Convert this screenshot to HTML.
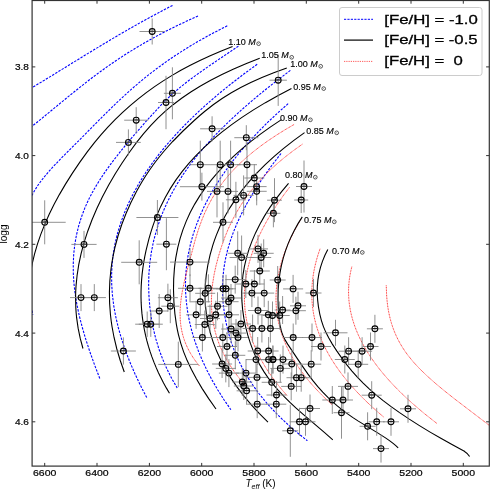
<!DOCTYPE html><html><head><meta charset="utf-8"><style>html,body{margin:0;padding:0;background:#fff;width:490px;height:489px;overflow:hidden}svg{display:block;will-change:transform}text{font-family:"Liberation Sans",sans-serif}</style></head><body>
<svg width="490" height="489" viewBox="0 0 490 489">
<defs><clipPath id="c"><rect x="32.1" y="0.5" width="457.2" height="465.6"/></clipPath></defs>
<g clip-path="url(#c)" fill="none">
<path d="M172.51,5.40 158.62,12.65 144.79,20.15 130.97,27.90 116.28,36.40 92.88,50.40 42.83,81.15 19.85,95.00" stroke="#0000ff" stroke-width="1.1" stroke-dasharray="2.4,1.3"/>
<path d="M197.99,16.00 186.91,21.00 175.86,26.25 165.39,31.50 154.99,37.00 145.15,42.50 135.39,48.25 125.74,54.25 116.21,60.50 108.57,65.75 100.87,71.25 93.13,77.00 85.00,83.25 70.61,94.75 37.12,122.25 28.00,129.50 19.57,136.00" stroke="#0000ff" stroke-width="1.1" stroke-dasharray="2.4,1.3"/>
<path d="M227.26,25.80 211.26,34.05 196.53,42.30 189.39,46.55 182.16,51.05 175.23,55.55 168.59,60.05 155.78,69.30 149.29,74.30 143.05,79.30 130.73,89.80 117.92,101.55 103.83,115.30 80.63,138.80 60.66,158.80 51.44,168.55 44.33,176.80 41.00,181.05 37.95,185.30 35.35,189.30 33.06,193.30 31.55,196.30 30.13,199.55 26.16,210.30 24.51,214.30 22.52,218.30 20.23,222.00" stroke="#0000ff" stroke-width="1.1" stroke-dasharray="2.4,1.3"/>
<path d="M238.44,46.10 205.99,68.10 196.12,75.10 187.39,81.60 179.50,87.85 172.79,93.60 166.38,99.60 159.76,106.35 145.21,122.35 131.05,138.60 119.93,152.10 110.53,164.35 106.22,170.35 102.29,176.10 98.57,181.85 95.24,187.35 92.27,192.60 89.51,197.85 86.99,203.10 84.70,208.35 81.39,217.10 78.61,226.10 76.39,235.35 74.78,244.60 73.73,254.10 73.25,263.85 73.34,273.85 73.99,283.85 75.18,294.10 76.92,304.60 79.25,315.60 82.11,326.85 85.62,338.85 89.72,351.35 94.55,364.85 100.28,379.80" stroke="#0000ff" stroke-width="1.1" stroke-dasharray="2.4,1.3"/>
<path d="M257.18,64.30 243.81,74.05 231.11,83.80 219.08,93.55 207.44,103.55 196.76,113.30 186.48,123.30 176.89,133.30 167.97,143.30 159.74,153.30 152.17,163.30 145.26,173.30 139.02,183.30 133.43,193.30 128.37,203.55 124.09,213.55 120.37,223.80 117.37,233.80 115.01,243.80 113.26,253.80 112.14,263.80 111.61,274.05 111.70,284.30 112.40,294.80 113.73,305.55 115.66,316.30 118.22,327.30 121.42,338.55 125.18,349.80 129.58,361.30 134.72,373.30 140.39,385.30 146.82,397.80" stroke="#0000ff" stroke-width="1.1" stroke-dasharray="2.4,1.3"/>
<path d="M290.36,70.40 276.85,80.65 264.22,90.65 252.44,100.40 241.23,110.15 230.86,119.65 221.08,129.15 212.13,138.40 203.79,147.65 196.26,156.65 189.35,165.65 183.03,174.65 177.31,183.65 172.03,192.90 167.33,202.15 163.20,211.40 159.54,220.90 156.22,231.15 153.52,241.40 151.39,251.90 149.85,262.65 148.93,273.40 148.61,284.15 148.89,295.15 149.78,306.40 151.26,317.65 153.27,328.40 155.82,338.90 158.95,349.15 162.64,359.15 166.88,368.90 171.68,378.40 177.16,387.90" stroke="#0000ff" stroke-width="1.1" stroke-dasharray="2.4,1.3"/>
<path d="M288.12,103.70 277.71,112.95 267.87,122.20 258.61,131.45 249.91,140.70 241.78,149.95 234.02,159.45 227.03,168.70 220.43,178.20 214.56,187.45 209.11,196.95 204.23,206.45 199.92,215.95 196.19,225.45 193.01,234.95 190.40,244.45 188.34,253.95 186.84,263.45 185.87,273.20 185.48,282.70 185.64,292.45 186.34,301.95 187.62,311.70 189.46,321.45 191.85,331.20 194.80,340.95 198.29,350.70 202.33,360.45 206.90,370.20 212.01,379.95 217.81,389.95 223.99,399.70 230.88,409.70" stroke="#0000ff" stroke-width="1.1" stroke-dasharray="2.4,1.3"/>
<path d="M281.00,153.50 272.88,164.00 265.42,174.25 258.61,184.25 252.30,194.25 246.65,204.00 241.65,213.50 237.29,222.75 233.46,232.00 230.25,241.00 227.64,249.75 225.57,258.50 224.04,267.25 223.02,276.25 222.54,285.25 222.59,294.25 223.17,303.50 224.36,313.25 226.11,323.00 228.43,332.75 231.20,342.00 234.48,351.00 238.26,359.75 242.65,368.50 247.54,377.00 253.08,385.50 259.12,393.75 265.62,401.75 272.80,409.75 280.67,417.75 288.98,425.50 298.01,433.25 307.37,440.70" stroke="#0000ff" stroke-width="1.1" stroke-dasharray="2.4,1.3"/>
<path d="M32.2,310.5 C32.3,311.2 32.7,314.2 32.8,315.0" stroke="#0000ff" stroke-width="1.1" stroke-dasharray="2.4,1.3"/>
<path d="M294.05,124.50 285.06,129.75 276.64,135.00 268.39,140.50 260.72,146.00 253.60,151.50 247.00,157.00 240.65,162.75 234.82,168.50 229.51,174.25 224.47,180.25 219.93,186.25 215.69,192.50 211.76,199.00 208.27,205.50 204.96,212.50 201.95,219.75 198.44,229.50 194.98,240.75 188.03,266.75 184.75,279.75 182.74,289.00 181.32,297.25 180.42,305.00 180.06,312.25 180.24,319.75 180.58,323.50 181.05,327.00 181.69,330.50 182.50,334.00 183.49,337.50 184.58,340.75 185.84,344.00 187.28,347.25 188.91,350.50 190.73,353.75 192.75,357.00 194.79,360.00 197.22,363.25 199.70,366.30" stroke="#ff0000" stroke-width="0.85" stroke-dasharray="0.9,0.7"/>
<path d="M302.38,144.20 293.61,150.45 285.17,156.95 277.38,163.45 270.22,169.95 263.40,176.70 256.98,183.70 251.15,190.70 245.71,197.95 240.84,205.20 236.34,212.70 232.21,220.45 228.34,228.70 224.86,237.20 221.55,246.45 218.45,256.45 215.95,265.95 214.08,274.70 212.69,283.20 211.81,291.45 211.41,299.45 211.50,307.20 212.07,314.95 213.13,322.45 214.65,329.70 216.67,336.95 219.24,344.20 222.25,351.20 225.81,358.20 229.78,364.95 234.30,371.70 239.40,378.45 244.91,385.00" stroke="#ff0000" stroke-width="0.85" stroke-dasharray="0.9,0.7"/>
<path d="M289.38,187.50 283.91,194.75 278.93,201.75 274.26,208.75 269.89,215.75 265.85,222.75 262.26,229.50 258.86,236.50 255.91,243.25 253.27,250.00 250.97,256.75 249.00,263.50 247.43,270.00 246.14,276.75 245.23,283.25 244.65,289.75 244.41,296.25 244.52,302.75 244.98,309.25 245.79,315.75 246.92,322.00 248.38,328.25 250.19,334.50 252.34,340.75 254.86,347.00 257.73,353.25 260.96,359.50 264.57,365.75 268.38,371.75 272.73,378.00 277.26,384.00 282.15,390.00 287.32,395.90" stroke="#ff0000" stroke-width="0.85" stroke-dasharray="0.9,0.7"/>
<path d="M300.77,219.40 297.04,225.90 293.59,232.40 290.42,238.90 287.65,245.15 285.15,251.40 282.93,257.65 281.00,263.90 279.43,269.90 278.15,275.90 277.15,281.90 276.45,287.90 276.06,293.90 275.97,299.90 276.19,305.65 276.71,311.40 277.53,317.15 278.66,322.90 280.11,328.65 281.88,334.40 283.88,339.90 286.30,345.65 288.94,351.15 291.89,356.65 295.17,362.15 298.78,367.65 302.72,373.15 307.00,378.65 311.40,383.90 316.13,389.15 321.18,394.40 326.56,399.65 332.38,405.00" stroke="#ff0000" stroke-width="0.85" stroke-dasharray="0.9,0.7"/>
<path d="M320.04,248.80 318.10,254.55 316.48,260.05 315.09,265.55 313.94,271.05 313.03,276.55 312.37,282.05 311.96,287.55 311.80,292.80 311.89,298.30 312.23,303.55 312.80,308.80 313.63,314.05 314.71,319.30 316.05,324.55 317.64,329.80 319.51,335.05 321.63,340.30 324.03,345.55 326.69,350.80 329.48,355.80 332.66,361.05 335.95,366.05 339.67,371.30 343.46,376.30 347.72,381.55 352.02,386.55 356.81,391.80 361.63,396.80 366.95,402.05 372.29,407.05 378.16,412.30 384.02,417.30" stroke="#ff0000" stroke-width="0.85" stroke-dasharray="0.9,0.7"/>
<path d="M351.84,266.70 350.70,271.45 349.81,276.20 349.15,280.95 348.71,285.95 348.55,290.70 348.62,295.45 348.92,300.20 349.50,305.20 350.30,309.95 351.38,314.95 352.65,319.70 354.24,324.70 355.99,329.45 358.08,334.45 360.30,339.20 362.88,344.20 365.57,348.95 368.65,353.95 371.97,358.95 375.55,363.95 379.17,368.70 383.23,373.70 387.54,378.70 392.09,383.70 396.64,388.45 401.67,393.45 406.94,398.45 412.45,403.45 424.19,413.45 436.95,423.50" stroke="#ff0000" stroke-width="0.85" stroke-dasharray="0.9,0.7"/>
<path d="M386.23,285.40 386.67,296.15 387.11,301.15 387.68,305.90 388.43,310.65 389.33,315.15 390.35,319.40 391.57,323.65 392.98,327.90 394.51,331.90 396.24,335.90 398.19,339.90 400.37,343.90 402.63,347.65 405.10,351.40 407.81,355.15 413.29,361.90 419.55,368.65 427.04,375.90 435.77,383.65 444.50,390.90 454.59,398.90 495.35,430.00" stroke="#ff0000" stroke-width="0.85" stroke-dasharray="0.9,0.7"/>
<path d="M232.53,46.60 221.29,51.10 210.22,55.85 199.90,60.60 189.80,65.60 180.42,70.60 171.29,75.85 162.83,81.10 154.60,86.60 146.29,92.60 138.25,98.85 130.16,105.60 122.35,112.60 114.83,119.85 107.85,127.10 101.12,134.60 94.44,142.60 87.26,151.85 79.87,162.10 72.44,173.10 65.50,184.10 59.51,194.35 53.99,204.60 49.07,214.60 44.63,224.60 40.78,234.35 37.43,244.10 34.64,253.60 32.35,263.10 30.61,272.35 29.37,281.60 28.64,290.85 28.43,300.00" stroke="#000" stroke-width="1.1"/>
<path d="M259.73,58.20 246.47,63.45 233.67,68.95 221.93,74.45 210.70,80.20 200.47,85.95 190.77,91.95 181.63,98.20 173.07,104.70 165.36,111.20 157.87,118.20 150.63,125.70 143.62,133.70 136.61,142.45 129.42,152.20 122.08,162.95 115.26,173.70 108.56,185.20 102.45,196.70 96.95,208.20 92.04,219.70 87.73,231.20 84.10,242.45 81.09,253.70 78.75,264.70 77.08,275.45 76.01,286.20 75.71,291.70 75.58,296.95 75.80,307.45 76.14,312.70 76.65,317.95 78.12,328.20 80.24,338.45 82.96,348.50" stroke="#000" stroke-width="1.1"/>
<path d="M286.79,68.00 273.73,72.75 261.93,77.50 250.76,82.50 240.73,87.50 231.30,92.75 222.10,98.50 213.53,104.50 204.89,111.25 199.85,115.50 194.21,120.50 182.75,131.25 172.94,141.25 168.34,146.25 163.97,151.25 160.03,156.00 156.29,160.75 152.57,165.75 149.06,170.75 145.74,175.75 142.47,181.00 139.38,186.25 136.34,191.75 130.80,202.75 125.92,213.75 121.68,224.75 118.00,236.00 114.98,247.25 112.62,258.50 111.70,264.00 110.91,269.75 109.84,281.00 109.41,292.25 109.62,303.50 110.46,314.75 111.13,320.50 111.96,326.25 114.05,337.50 116.83,349.00 120.24,360.50 124.28,372.00" stroke="#000" stroke-width="1.1"/>
<path d="M291.47,88.40 278.23,95.40 265.40,102.65 253.45,109.90 242.33,117.15 231.67,124.65 221.83,132.15 212.77,139.65 204.20,147.40 196.14,155.40 188.84,163.40 182.06,171.65 175.99,179.90 170.43,188.40 165.25,197.40 160.61,206.65 156.51,216.15 154.40,221.65 152.48,227.15 150.65,232.90 148.92,238.90 145.95,250.90 144.71,256.90 143.65,262.90 142.79,268.65 142.10,274.40 141.57,280.15 141.21,285.90 141.03,291.65 141.01,297.15 141.16,302.65 141.48,308.15 141.96,313.65 142.61,319.15 143.44,324.65 144.40,329.90 145.57,335.40 146.86,340.65 148.39,346.15 150.03,351.40 151.93,356.90 153.92,362.15 156.09,367.40 158.44,372.65 163.55,382.90 166.44,388.15 169.46,393.30" stroke="#000" stroke-width="1.1"/>
<path d="M281.44,119.60 270.59,126.85 260.44,134.10 250.67,141.60 241.61,149.10 233.24,156.60 225.29,164.35 218.03,172.10 211.42,179.85 205.27,187.85 199.76,195.85 194.72,204.10 190.18,212.60 186.28,221.10 182.87,229.85 180.06,238.60 177.75,247.60 175.82,257.60 175.05,262.85 174.45,268.10 173.69,278.85 173.50,289.85 173.91,302.10 174.87,313.60 176.36,324.35 177.33,329.60 178.43,334.60 180.78,343.35 183.63,351.85 187.18,360.60 191.43,369.60 196.38,378.85 202.19,388.60 208.70,398.60 215.99,409.00" stroke="#000" stroke-width="1.1"/>
<path d="M304.55,132.60 293.55,140.60 283.35,148.60 273.92,156.60 264.96,164.85 256.76,173.10 249.08,181.60 241.93,190.35 235.54,199.10 229.86,207.85 224.73,216.85 220.16,226.10 216.26,235.35 214.51,240.10 212.84,245.10 210.08,254.85 207.82,265.10 206.24,275.10 205.32,284.85 205.02,294.60 205.12,299.60 205.37,304.35 206.35,313.85 207.08,318.60 207.97,323.35 210.20,332.60 213.08,341.85 216.63,351.10 220.86,360.35 225.66,369.35 231.13,378.35 237.12,387.10 243.79,395.85 251.14,404.60 259.19,413.35 267.97,422.10" stroke="#000" stroke-width="1.1"/>
<path d="M288.54,183.40 281.81,191.40 275.44,199.65 269.64,207.90 264.42,216.15 259.75,224.40 255.64,232.65 252.08,240.90 248.96,249.40 246.42,257.90 244.43,266.40 242.99,274.90 242.08,283.40 241.71,291.90 241.88,300.65 242.59,309.40 243.84,318.15 245.51,326.40 247.71,334.90 250.39,343.40 253.30,351.15 256.51,358.40 260.01,365.15 263.89,371.65 268.33,378.15 272.97,384.15 278.10,390.15 283.93,396.40 290.49,402.90 295.86,407.90 302.33,413.65 324.62,432.65 332.82,439.80" stroke="#000" stroke-width="1.1"/>
<path d="M302.27,216.90 298.03,223.65 294.26,230.40 290.93,237.15 287.94,244.15 285.38,251.15 283.17,258.40 281.38,265.65 279.96,273.15 278.86,281.40 278.20,289.90 277.99,298.65 278.22,307.65 278.90,317.15 279.82,324.15 281.16,330.15 282.02,332.90 283.06,335.65 285.08,339.90 287.63,344.15 302.23,365.90 308.00,374.15 312.90,380.65 317.82,386.65 322.74,392.15 327.88,397.40 332.40,401.65 337.29,405.90 342.57,410.15 347.94,414.15 352.97,417.65 358.34,421.15 378.06,433.15 385.87,438.15 389.82,440.90 393.11,443.40 395.80,445.65 398.17,447.90" stroke="#000" stroke-width="1.1"/>
<path d="M327.80,249.60 324.92,255.35 322.44,261.35 320.48,267.35 318.94,273.60 317.91,279.85 317.33,286.35 317.23,293.10 317.61,299.85 318.45,306.85 319.79,314.10 321.44,320.60 323.43,326.60 325.75,332.10 328.67,337.85 332.34,344.10 336.74,350.85 342.00,358.35 347.08,365.10 351.98,371.10 357.33,377.10 363.16,383.10 369.23,388.85 375.78,394.60 382.84,400.35 390.76,406.35 399.57,412.60 409.27,419.10 419.45,425.60 430.12,432.10 441.27,438.60 452.90,445.10 464.84,451.50" stroke="#000" stroke-width="1.1"/>
<path d="M464.2,451.2 Q467.8,453.3 469.6,456.6" stroke="#000" stroke-width="1.1"/>
<path d="M139.5,31.5H164.9M152.2,18.5V44.5M163.9,93.3H180.9M172.4,67.3V119.3M158.0,102.5H174.0M166.0,75.8V129.2M124.2,120.2H148.2M136.2,107.2V133.2M116.0,142.4H140.8M128.4,129.4V155.4M269.5,80.2H286.9M278.2,54.5V105.9M200.1,128.8H224.1M212.1,116.3V141.3M234.3,137.7H258.3M246.3,125.2V150.2M23.7,222.3H65.7M44.7,200.3V244.3M71.4,244.4H96.6M84.0,230.9V257.9M70.0,297.6H92.0M81.0,284.1V311.1M82.7,297.6H105.9M94.3,284.1V311.1M121.2,262.3H157.2M139.2,240.3V284.3M136.4,217.5H178.4M157.4,200.0V235.0M110.9,351.0H135.9M123.4,337.4V364.6M135.2,324.2H159.2M147.2,311.5V336.9M138.8,324.2H162.8M150.8,311.5V336.9M150.2,311.0H168.2M159.2,294.0V328.0M161.3,306.2H179.3M170.3,289.2V323.2M158.3,364.4H198.3M178.3,341.7V387.1M156.4,244.2H176.4M166.4,218.2V270.2M170.0,262.1H210.0M190.0,248.1V276.1M178.0,288.3H202.0M190.0,274.3V302.3M157.9,297.7H177.9M167.9,283.7V311.7M186.1,314.8H206.1M196.1,300.8V328.8M190.3,164.7H210.3M200.3,140.7V188.7M210.2,164.7H230.2M220.2,140.7V188.7M220.6,164.7H240.6M230.6,140.7V188.7M237.0,164.7H257.0M247.0,142.7V186.7M179.9,186.7H223.9M201.9,172.7V200.7M207.0,191.4H227.0M217.0,165.4V217.4M218.0,191.4H238.0M228.0,169.4V213.4M225.9,199.8H245.9M235.9,181.8V217.8M233.6,195.4H253.6M243.6,175.4V215.4M244.3,178.0H264.3M254.3,164.0V192.0M246.6,186.6H266.6M256.6,172.6V200.6M246.7,191.3H266.7M256.7,177.3V205.3M213.0,222.3H233.0M223.0,202.3V242.3M267.1,200.2H281.9M274.5,178.2V222.2M266.4,213.3H280.4M273.4,199.3V227.3M296.0,186.5H312.0M304.0,160.5V212.5M294.2,200.0H308.2M301.2,187.0V213.0M248.0,248.9H268.0M258.0,234.9V262.9M227.7,253.3H247.7M237.7,231.3V275.3M229.6,257.5H253.6M241.6,235.5V279.5M253.7,253.3H273.7M263.7,239.3V267.3M251.2,257.5H271.2M261.2,243.5V271.5M249.8,271.0H269.8M259.8,257.0V285.0M225.2,279.6H245.2M235.2,265.6V293.6M235.8,284.0H255.8M245.8,270.0V298.0M244.4,284.0H264.4M254.4,270.0V298.0M269.7,280.0H285.7M277.7,266.0V294.0M213.0,288.8H233.0M223.0,274.8V302.8M216.0,288.8H236.0M226.0,274.8V302.8M241.9,293.1H261.9M251.9,279.1V307.1M254.2,293.1H274.2M264.2,279.1V307.1M283.1,288.9H303.1M293.1,274.9V302.9M305.5,293.0H321.5M313.5,279.0V307.0M221.0,298.0H241.0M231.0,284.0V312.0M218.6,301.7H238.6M228.6,287.7V315.7M290.0,305.8H306.0M298.0,291.8V319.8M248.0,310.5H268.0M258.0,296.5V324.5M274.6,310.0H290.6M282.6,296.0V324.0M198.4,288.3H218.4M208.4,274.3V302.3M195.2,293.3H215.2M205.2,279.3V307.3M190.3,301.8H210.3M200.3,287.8V315.8M207.5,306.3H227.5M217.5,292.3V320.3M205.8,314.8H225.8M215.8,300.8V328.8M219.0,314.8H239.0M229.0,300.8V328.8M200.0,318.5H220.0M210.0,304.5V332.5M258.3,314.8H278.3M268.3,300.8V328.8M194.8,324.5H214.8M204.8,310.5V338.5M192.4,337.5H212.4M202.4,323.5V351.5M212.8,337.5H232.8M222.8,323.5V351.5M221.1,329.0H241.1M231.1,315.0V343.0M217.0,346.5H237.0M227.0,332.5V360.5M226.0,333.1H246.0M236.0,319.1V347.1M228.0,337.5H248.0M238.0,323.5V351.5M230.9,324.0H250.9M240.9,310.0V338.0M225.3,355.3H245.3M235.3,341.3V369.3M212.1,364.0H232.1M222.1,350.0V378.0M215.8,368.4H235.8M225.8,354.4V382.4M218.9,373.1H238.9M228.9,359.1V387.1M236.0,373.1H256.0M246.0,359.1V387.1M232.3,382.0H252.3M242.3,368.0V396.0M233.8,386.0H253.8M243.8,372.0V400.0M236.6,390.8H256.6M246.6,376.8V404.8M247.7,351.0H267.7M257.7,337.0V365.0M258.6,351.0H278.6M268.6,337.0V365.0M246.0,359.6H266.0M256.0,345.6V373.6M258.6,359.6H278.6M268.6,345.6V373.6M263.0,359.6H283.0M273.0,345.6V373.6M273.0,359.6H293.0M283.0,345.6V373.6M270.3,368.4H290.3M280.3,354.4V382.4M247.0,377.4H267.0M257.0,363.4V391.4M261.7,382.3H281.7M271.7,368.3V396.3M281.8,364.0H301.8M291.8,350.0V378.0M286.5,377.7H306.5M296.5,363.7V391.7M291.2,377.7H311.2M301.2,363.7V391.7M301.2,364.2H321.2M311.2,350.2V378.2M281.2,386.4H301.2M291.2,372.4V400.4M266.5,395.0H286.5M276.5,381.0V409.0M266.3,404.2H286.3M276.3,390.2V418.2M247.2,404.2H267.2M257.2,390.2V418.2M300.0,408.5H320.0M310.0,394.5V422.5M289.5,421.8H309.5M299.5,407.8V435.8M295.5,421.8H315.5M305.5,407.8V435.8M282.3,430.8H298.3M290.3,404.8V456.8M311.0,346.5H331.0M321.0,332.5V360.5M283.2,337.5H303.2M293.2,323.5V351.5M302.0,337.5H322.0M312.0,323.5V351.5M323.5,332.8H347.5M335.5,319.8V345.8M262.8,359.5H282.8M272.8,345.5V373.5M322.3,400.0H342.3M332.3,386.0V414.0M366.9,328.8H382.9M374.9,314.8V342.8M362.5,346.5H378.5M370.5,332.5V360.5M338.6,351.2H358.6M348.6,337.2V365.2M352.1,351.2H372.1M362.1,337.2V365.2M334.8,359.5H354.8M344.8,345.5V373.5M348.2,364.3H368.2M358.2,350.3V378.3M338.0,386.4H358.0M348.0,372.4V400.4M361.7,395.2H381.7M371.7,381.2V409.2M333.0,400.0H353.0M343.0,386.0V414.0M368.7,421.8H384.7M376.7,407.8V435.8M383.0,421.8H399.0M391.0,407.8V435.8M400.0,408.8H416.0M408.0,394.8V422.8M373.0,448.6H389.0M381.0,434.6V462.6M359.6,426.3H375.6M367.6,412.3V440.3M333.5,412.7H349.5M341.5,386.7V438.7M285.9,310.7H305.9M295.9,296.7V324.7M262.5,315.5H282.5M272.5,301.5V329.5M269.7,315.5H289.7M279.7,301.5V329.5M242.6,328.5H262.6M252.6,314.5V342.5M251.9,328.5H271.9M261.9,314.5V342.5M260.4,328.5H280.4M270.4,314.5V342.5" stroke="#858585" stroke-width="0.9"/>
<g stroke="#000" stroke-width="1.1"><circle cx="152.2" cy="31.5" r="2.9"/><circle cx="172.4" cy="93.3" r="2.9"/><circle cx="166.0" cy="102.5" r="2.9"/><circle cx="136.2" cy="120.2" r="2.9"/><circle cx="128.4" cy="142.4" r="2.9"/><circle cx="278.2" cy="80.2" r="2.9"/><circle cx="212.1" cy="128.8" r="2.9"/><circle cx="246.3" cy="137.7" r="2.9"/><circle cx="44.7" cy="222.3" r="2.9"/><circle cx="84.0" cy="244.4" r="2.9"/><circle cx="81.0" cy="297.6" r="2.9"/><circle cx="94.3" cy="297.6" r="2.9"/><circle cx="139.2" cy="262.3" r="2.9"/><circle cx="157.4" cy="217.5" r="2.9"/><circle cx="123.4" cy="351.0" r="2.9"/><circle cx="147.2" cy="324.2" r="2.9"/><circle cx="150.8" cy="324.2" r="2.9"/><circle cx="159.2" cy="311.0" r="2.9"/><circle cx="170.3" cy="306.2" r="2.9"/><circle cx="178.3" cy="364.4" r="2.9"/><circle cx="166.4" cy="244.2" r="2.9"/><circle cx="190.0" cy="262.1" r="2.9"/><circle cx="190.0" cy="288.3" r="2.9"/><circle cx="167.9" cy="297.7" r="2.9"/><circle cx="196.1" cy="314.8" r="2.9"/><circle cx="200.3" cy="164.7" r="2.9"/><circle cx="220.2" cy="164.7" r="2.9"/><circle cx="230.6" cy="164.7" r="2.9"/><circle cx="247.0" cy="164.7" r="2.9"/><circle cx="201.9" cy="186.7" r="2.9"/><circle cx="217.0" cy="191.4" r="2.9"/><circle cx="228.0" cy="191.4" r="2.9"/><circle cx="235.9" cy="199.8" r="2.9"/><circle cx="243.6" cy="195.4" r="2.9"/><circle cx="254.3" cy="178.0" r="2.9"/><circle cx="256.6" cy="186.6" r="2.9"/><circle cx="256.7" cy="191.3" r="2.9"/><circle cx="223.0" cy="222.3" r="2.9"/><circle cx="274.5" cy="200.2" r="2.9"/><circle cx="273.4" cy="213.3" r="2.9"/><circle cx="304.0" cy="186.5" r="2.9"/><circle cx="301.2" cy="200.0" r="2.9"/><circle cx="258.0" cy="248.9" r="2.9"/><circle cx="237.7" cy="253.3" r="2.9"/><circle cx="241.6" cy="257.5" r="2.9"/><circle cx="263.7" cy="253.3" r="2.9"/><circle cx="261.2" cy="257.5" r="2.9"/><circle cx="259.8" cy="271.0" r="2.9"/><circle cx="235.2" cy="279.6" r="2.9"/><circle cx="245.8" cy="284.0" r="2.9"/><circle cx="254.4" cy="284.0" r="2.9"/><circle cx="277.7" cy="280.0" r="2.9"/><circle cx="223.0" cy="288.8" r="2.9"/><circle cx="226.0" cy="288.8" r="2.9"/><circle cx="251.9" cy="293.1" r="2.9"/><circle cx="264.2" cy="293.1" r="2.9"/><circle cx="293.1" cy="288.9" r="2.9"/><circle cx="313.5" cy="293.0" r="2.9"/><circle cx="231.0" cy="298.0" r="2.9"/><circle cx="228.6" cy="301.7" r="2.9"/><circle cx="298.0" cy="305.8" r="2.9"/><circle cx="258.0" cy="310.5" r="2.9"/><circle cx="282.6" cy="310.0" r="2.9"/><circle cx="208.4" cy="288.3" r="2.9"/><circle cx="205.2" cy="293.3" r="2.9"/><circle cx="200.3" cy="301.8" r="2.9"/><circle cx="217.5" cy="306.3" r="2.9"/><circle cx="215.8" cy="314.8" r="2.9"/><circle cx="229.0" cy="314.8" r="2.9"/><circle cx="210.0" cy="318.5" r="2.9"/><circle cx="268.3" cy="314.8" r="2.9"/><circle cx="204.8" cy="324.5" r="2.9"/><circle cx="202.4" cy="337.5" r="2.9"/><circle cx="222.8" cy="337.5" r="2.9"/><circle cx="231.1" cy="329.0" r="2.9"/><circle cx="227.0" cy="346.5" r="2.9"/><circle cx="236.0" cy="333.1" r="2.9"/><circle cx="238.0" cy="337.5" r="2.9"/><circle cx="240.9" cy="324.0" r="2.9"/><circle cx="235.3" cy="355.3" r="2.9"/><circle cx="222.1" cy="364.0" r="2.9"/><circle cx="225.8" cy="368.4" r="2.9"/><circle cx="228.9" cy="373.1" r="2.9"/><circle cx="246.0" cy="373.1" r="2.9"/><circle cx="242.3" cy="382.0" r="2.9"/><circle cx="243.8" cy="386.0" r="2.9"/><circle cx="246.6" cy="390.8" r="2.9"/><circle cx="257.7" cy="351.0" r="2.9"/><circle cx="268.6" cy="351.0" r="2.9"/><circle cx="256.0" cy="359.6" r="2.9"/><circle cx="268.6" cy="359.6" r="2.9"/><circle cx="273.0" cy="359.6" r="2.9"/><circle cx="283.0" cy="359.6" r="2.9"/><circle cx="280.3" cy="368.4" r="2.9"/><circle cx="257.0" cy="377.4" r="2.9"/><circle cx="271.7" cy="382.3" r="2.9"/><circle cx="291.8" cy="364.0" r="2.9"/><circle cx="296.5" cy="377.7" r="2.9"/><circle cx="301.2" cy="377.7" r="2.9"/><circle cx="311.2" cy="364.2" r="2.9"/><circle cx="291.2" cy="386.4" r="2.9"/><circle cx="276.5" cy="395.0" r="2.9"/><circle cx="276.3" cy="404.2" r="2.9"/><circle cx="257.2" cy="404.2" r="2.9"/><circle cx="310.0" cy="408.5" r="2.9"/><circle cx="299.5" cy="421.8" r="2.9"/><circle cx="305.5" cy="421.8" r="2.9"/><circle cx="290.3" cy="430.8" r="2.9"/><circle cx="321.0" cy="346.5" r="2.9"/><circle cx="293.2" cy="337.5" r="2.9"/><circle cx="312.0" cy="337.5" r="2.9"/><circle cx="335.5" cy="332.8" r="2.9"/><circle cx="272.8" cy="359.5" r="2.9"/><circle cx="332.3" cy="400.0" r="2.9"/><circle cx="374.9" cy="328.8" r="2.9"/><circle cx="370.5" cy="346.5" r="2.9"/><circle cx="348.6" cy="351.2" r="2.9"/><circle cx="362.1" cy="351.2" r="2.9"/><circle cx="344.8" cy="359.5" r="2.9"/><circle cx="358.2" cy="364.3" r="2.9"/><circle cx="348.0" cy="386.4" r="2.9"/><circle cx="371.7" cy="395.2" r="2.9"/><circle cx="343.0" cy="400.0" r="2.9"/><circle cx="376.7" cy="421.8" r="2.9"/><circle cx="391.0" cy="421.8" r="2.9"/><circle cx="408.0" cy="408.8" r="2.9"/><circle cx="381.0" cy="448.6" r="2.9"/><circle cx="367.6" cy="426.3" r="2.9"/><circle cx="341.5" cy="412.7" r="2.9"/><circle cx="295.9" cy="310.7" r="2.9"/><circle cx="272.5" cy="315.5" r="2.9"/><circle cx="279.7" cy="315.5" r="2.9"/><circle cx="252.6" cy="328.5" r="2.9"/><circle cx="261.9" cy="328.5" r="2.9"/><circle cx="270.4" cy="328.5" r="2.9"/></g>
<path d="M149.7,31.2H154.7M169.9,93.0H174.9M163.5,102.2H168.5M133.7,119.9H138.7M125.9,142.1H130.9M275.7,79.9H280.7M209.6,128.5H214.6M243.8,137.4H248.8M42.2,222.0H47.2M81.5,244.1H86.5M78.5,297.3H83.5M91.8,297.3H96.8M136.7,262.0H141.7M154.9,217.2H159.9M120.9,350.7H125.9M144.7,323.9H149.7M148.3,323.9H153.3M156.7,310.7H161.7M167.8,305.9H172.8M175.8,364.1H180.8M163.9,243.9H168.9M187.5,261.8H192.5M187.5,288.0H192.5M165.4,297.4H170.4M193.6,314.5H198.6M197.8,164.4H202.8M217.7,164.4H222.7M228.1,164.4H233.1M244.5,164.4H249.5M199.4,186.4H204.4M214.5,191.1H219.5M225.5,191.1H230.5M233.4,199.5H238.4M241.1,195.1H246.1M251.8,177.7H256.8M254.1,186.3H259.1M254.2,191.0H259.2M220.5,222.0H225.5M272.0,199.9H277.0M270.9,213.0H275.9M301.5,186.2H306.5M298.7,199.7H303.7M255.5,248.6H260.5M235.2,253.0H240.2M239.1,257.2H244.1M261.2,253.0H266.2M258.7,257.2H263.7M257.3,270.7H262.3M232.7,279.3H237.7M243.3,283.7H248.3M251.9,283.7H256.9M275.2,279.7H280.2M220.5,288.5H225.5M223.5,288.5H228.5M249.4,292.8H254.4M261.7,292.8H266.7M290.6,288.6H295.6M311.0,292.7H316.0M228.5,297.7H233.5M226.1,301.4H231.1M295.5,305.5H300.5M255.5,310.2H260.5M280.1,309.7H285.1M205.9,288.0H210.9M202.7,293.0H207.7M197.8,301.5H202.8M215.0,306.0H220.0M213.3,314.5H218.3M226.5,314.5H231.5M207.5,318.2H212.5M265.8,314.5H270.8M202.3,324.2H207.3M199.9,337.2H204.9M220.3,337.2H225.3M228.6,328.7H233.6M224.5,346.2H229.5M233.5,332.8H238.5M235.5,337.2H240.5M238.4,323.7H243.4M232.8,355.0H237.8M219.6,363.7H224.6M223.3,368.1H228.3M226.4,372.8H231.4M243.5,372.8H248.5M239.8,381.7H244.8M241.3,385.7H246.3M244.1,390.5H249.1M255.2,350.7H260.2M266.1,350.7H271.1M253.5,359.3H258.5M266.1,359.3H271.1M270.5,359.3H275.5M280.5,359.3H285.5M277.8,368.1H282.8M254.5,377.1H259.5M269.2,382.0H274.2M289.3,363.7H294.3M294.0,377.4H299.0M298.7,377.4H303.7M308.7,363.9H313.7M288.7,386.1H293.7M274.0,394.7H279.0M273.8,403.9H278.8M254.7,403.9H259.7M307.5,408.2H312.5M297.0,421.5H302.0M303.0,421.5H308.0M287.8,430.5H292.8M318.5,346.2H323.5M290.7,337.2H295.7M309.5,337.2H314.5M333.0,332.5H338.0M270.3,359.2H275.3M329.8,399.7H334.8M372.4,328.5H377.4M368.0,346.2H373.0M346.1,350.9H351.1M359.6,350.9H364.6M342.3,359.2H347.3M355.7,364.0H360.7M345.5,386.1H350.5M369.2,394.9H374.2M340.5,399.7H345.5M374.2,421.5H379.2M388.5,421.5H393.5M405.5,408.5H410.5M378.5,448.3H383.5M365.1,426.0H370.1M339.0,412.4H344.0M293.4,310.4H298.4M270.0,315.2H275.0M277.2,315.2H282.2M250.1,328.2H255.1M259.4,328.2H264.4M267.9,328.2H272.9" stroke="#111" stroke-width="0.9"/>
</g>
<rect x="32.1" y="0.5" width="457.2" height="465.6" fill="none" stroke="#333" stroke-width="1.2"/>
<path d="M463.3,466.1V462.9M463.3,0.5V3.7M411.0,466.1V462.9M411.0,0.5V3.7M358.7,466.1V462.9M358.7,0.5V3.7M306.3,466.1V462.9M306.3,0.5V3.7M254.0,466.1V462.9M254.0,0.5V3.7M201.7,466.1V462.9M201.7,0.5V3.7M149.4,466.1V462.9M149.4,0.5V3.7M97.0,466.1V462.9M97.0,0.5V3.7M44.7,466.1V462.9M44.7,0.5V3.7M32.1,66.9H35.3M489.3,66.9H486.1M32.1,155.6H35.3M489.3,155.6H486.1M32.1,244.3H35.3M489.3,244.3H486.1M32.1,333.1H35.3M489.3,333.1H486.1M32.1,421.8H35.3M489.3,421.8H486.1" stroke="#333" stroke-width="1"/>
<text x="463.3" y="476.3" font-size="9.5" text-anchor="middle" fill="#000" stroke="#000" stroke-width="0.2" textLength="23.4" lengthAdjust="spacingAndGlyphs">5000</text>
<text x="411.0" y="476.3" font-size="9.5" text-anchor="middle" fill="#000" stroke="#000" stroke-width="0.2" textLength="23.4" lengthAdjust="spacingAndGlyphs">5200</text>
<text x="358.7" y="476.3" font-size="9.5" text-anchor="middle" fill="#000" stroke="#000" stroke-width="0.2" textLength="23.4" lengthAdjust="spacingAndGlyphs">5400</text>
<text x="306.3" y="476.3" font-size="9.5" text-anchor="middle" fill="#000" stroke="#000" stroke-width="0.2" textLength="23.4" lengthAdjust="spacingAndGlyphs">5600</text>
<text x="254.0" y="476.3" font-size="9.5" text-anchor="middle" fill="#000" stroke="#000" stroke-width="0.2" textLength="23.4" lengthAdjust="spacingAndGlyphs">5800</text>
<text x="201.7" y="476.3" font-size="9.5" text-anchor="middle" fill="#000" stroke="#000" stroke-width="0.2" textLength="23.4" lengthAdjust="spacingAndGlyphs">6000</text>
<text x="149.4" y="476.3" font-size="9.5" text-anchor="middle" fill="#000" stroke="#000" stroke-width="0.2" textLength="23.4" lengthAdjust="spacingAndGlyphs">6200</text>
<text x="97.0" y="476.3" font-size="9.5" text-anchor="middle" fill="#000" stroke="#000" stroke-width="0.2" textLength="23.4" lengthAdjust="spacingAndGlyphs">6400</text>
<text x="44.7" y="476.3" font-size="9.5" text-anchor="middle" fill="#000" stroke="#000" stroke-width="0.2" textLength="23.4" lengthAdjust="spacingAndGlyphs">6600</text>
<text x="28.9" y="70.3" font-size="9.8" text-anchor="end" fill="#000" stroke="#000" stroke-width="0.2" textLength="14.0" lengthAdjust="spacingAndGlyphs">3.8</text>
<text x="28.9" y="159.0" font-size="9.8" text-anchor="end" fill="#000" stroke="#000" stroke-width="0.2" textLength="14.0" lengthAdjust="spacingAndGlyphs">4.0</text>
<text x="28.9" y="247.7" font-size="9.8" text-anchor="end" fill="#000" stroke="#000" stroke-width="0.2" textLength="14.0" lengthAdjust="spacingAndGlyphs">4.2</text>
<text x="28.9" y="336.5" font-size="9.8" text-anchor="end" fill="#000" stroke="#000" stroke-width="0.2" textLength="14.0" lengthAdjust="spacingAndGlyphs">4.4</text>
<text x="28.9" y="425.2" font-size="9.8" text-anchor="end" fill="#000" stroke="#000" stroke-width="0.2" textLength="14.0" lengthAdjust="spacingAndGlyphs">4.6</text>
<text x="260.5" y="487.3" font-size="10" text-anchor="middle" fill="#000"><tspan font-style="italic">T</tspan><tspan font-style="italic" font-size="7" dy="1.5">eff</tspan><tspan dy="-1.5"> (K)</tspan></text>
<text transform="translate(7.4,234) rotate(-90)" font-size="10" text-anchor="middle" fill="#000">logg</text>
<text x="228.2" y="44.8" font-size="9" fill="#000" stroke="#000" stroke-width="0.15">1.10 <tspan font-style="italic">M</tspan></text>
<circle cx="258.6" cy="43.7" r="1.85" fill="none" stroke="#000" stroke-width="0.65"/><circle cx="258.6" cy="43.7" r="0.4" fill="#000"/>
<text x="261.3" y="58.4" font-size="9" fill="#000" stroke="#000" stroke-width="0.15">1.05 <tspan font-style="italic">M</tspan></text>
<circle cx="291.7" cy="57.3" r="1.85" fill="none" stroke="#000" stroke-width="0.65"/><circle cx="291.7" cy="57.3" r="0.4" fill="#000"/>
<text x="290.3" y="67.4" font-size="9" fill="#000" stroke="#000" stroke-width="0.15">1.00 <tspan font-style="italic">M</tspan></text>
<circle cx="320.7" cy="66.3" r="1.85" fill="none" stroke="#000" stroke-width="0.65"/><circle cx="320.7" cy="66.3" r="0.4" fill="#000"/>
<text x="293.3" y="89.7" font-size="9" fill="#000" stroke="#000" stroke-width="0.15">0.95 <tspan font-style="italic">M</tspan></text>
<circle cx="323.7" cy="88.6" r="1.85" fill="none" stroke="#000" stroke-width="0.65"/><circle cx="323.7" cy="88.6" r="0.4" fill="#000"/>
<text x="280.0" y="120.9" font-size="9" fill="#000" stroke="#000" stroke-width="0.15">0.90 <tspan font-style="italic">M</tspan></text>
<circle cx="310.4" cy="119.8" r="1.85" fill="none" stroke="#000" stroke-width="0.65"/><circle cx="310.4" cy="119.8" r="0.4" fill="#000"/>
<text x="306.3" y="133.9" font-size="9" fill="#000" stroke="#000" stroke-width="0.15">0.85 <tspan font-style="italic">M</tspan></text>
<circle cx="336.7" cy="132.8" r="1.85" fill="none" stroke="#000" stroke-width="0.65"/><circle cx="336.7" cy="132.8" r="0.4" fill="#000"/>
<text x="284.9" y="178.3" font-size="9" fill="#000" stroke="#000" stroke-width="0.15">0.80 <tspan font-style="italic">M</tspan></text>
<circle cx="315.3" cy="177.2" r="1.85" fill="none" stroke="#000" stroke-width="0.65"/><circle cx="315.3" cy="177.2" r="0.4" fill="#000"/>
<text x="303.9" y="222.9" font-size="9" fill="#000" stroke="#000" stroke-width="0.15">0.75 <tspan font-style="italic">M</tspan></text>
<circle cx="334.3" cy="221.8" r="1.85" fill="none" stroke="#000" stroke-width="0.65"/><circle cx="334.3" cy="221.8" r="0.4" fill="#000"/>
<text x="331.9" y="253.5" font-size="9" fill="#000" stroke="#000" stroke-width="0.15">0.70 <tspan font-style="italic">M</tspan></text>
<circle cx="362.3" cy="252.4" r="1.85" fill="none" stroke="#000" stroke-width="0.65"/><circle cx="362.3" cy="252.4" r="0.4" fill="#000"/>
<rect x="339.5" y="7.5" width="142.5" height="68" rx="2.5" fill="#fff" fill-opacity="0.85" stroke="#ccc" stroke-width="1"/>
<path d="M344,19.3H373" stroke="#0000ff" stroke-width="1" stroke-dasharray="2.2,1.2"/>
<path d="M344,40.1H373" stroke="#000" stroke-width="1.2"/>
<path d="M344,61.4H373" stroke="#ff0000" stroke-width="0.8" stroke-dasharray="0.8,1"/>
<text x="384.3" y="23.7" font-size="13" fill="#000" stroke="#000" stroke-width="0.3" xml:space="preserve" textLength="93.5" lengthAdjust="spacingAndGlyphs">[Fe/H] = -1.0</text>
<text x="384.3" y="44.3" font-size="13" fill="#000" stroke="#000" stroke-width="0.3" xml:space="preserve" textLength="93.3" lengthAdjust="spacingAndGlyphs">[Fe/H] = -0.5</text>
<text x="384.3" y="65.1" font-size="13" fill="#000" stroke="#000" stroke-width="0.3" xml:space="preserve" textLength="78.5" lengthAdjust="spacingAndGlyphs">[Fe/H] =  0</text>
</svg></body></html>
